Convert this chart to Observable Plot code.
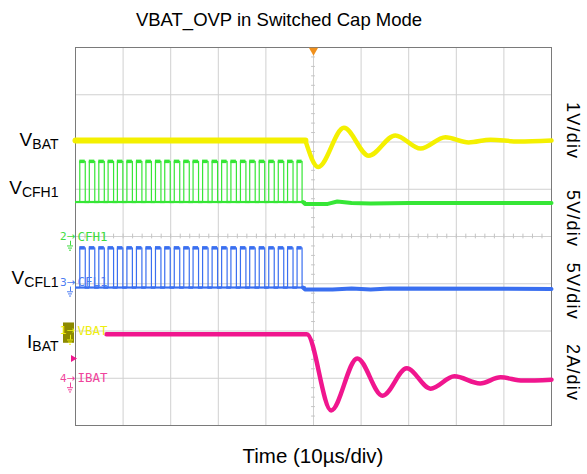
<!DOCTYPE html>
<html><head><meta charset="utf-8">
<script src="https://cdn.jsdelivr.net/npm/d3@7"></script>
<script src="https://cdn.jsdelivr.net/npm/@observablehq/plot@0.6"></script>
<style>
body{margin:0;background:#fff;font-family:"Liberation Sans",Arial,sans-serif;color:#000;}
#wrap{width:587px;height:474px;position:relative;overflow:hidden;}
#title{width:558px;height:40px;line-height:40px;text-align:center;font-size:18.5px;}
#xlab{width:626px;height:34px;line-height:32px;text-align:center;font-size:20.5px;}
svg{display:block;}
</style></head>
<body><div id="wrap">
<div id="title">VBAT_OVP in Switched Cap Mode</div>
<div id="chart"></div>
<div id="xlab">Time (10µs/div)</div>
</div>
<script>
// ---- data (time in µs, amplitude in screen divisions) ----
const vbatT = [-50, -1.7, 1.0, 6.4, 11.6, 17.2, 22.5, 27.7, 32.6, 37.2, 43, 50];
const vbatV = [2.03, 2.03, 1.47, 2.30, 1.71, 2.14, 1.86, 2.10, 1.99, 2.05, 2.01, 2.03];

const ibatT = [-43.5, -1.4, 3.7, 9.2, 14.5, 19.6, 24.6, 29.6, 35.0, 39.3, 44, 50];
const ibatV = [-2.07, -2.07, -3.68, -2.58, -3.37, -2.79, -3.22, -2.96, -3.11, -2.98, -3.05, -3.03];

const swRise = [-49.1, -47.1, -45.1, -43.15, -41.2, -39.2, -37.2, -35.2, -33.2, -31.25, -29.25, -27.25,
                -25.3, -23.3, -21.3, -19.3, -17.35, -15.35, -13.4, -11.4, -9.4, -7.4, -5.45, -3.45];
const swFall = [-47.95, -45.95, -43.95, -42.0, -40.05, -38.05, -36.05, -34.05, -32.05, -30.1, -28.1, -26.1,
                -24.15, -22.15, -20.15, -18.15, -16.2, -14.2, -12.25, -10.25, -8.25, -6.25, -4.3, -2.4];

const cfh1Hi = 1.59, cfh1Lo = 0.73;
const cfh1PostT = [-2.2, -1.8, 3, 5, 8, 12, 20, 50];
const cfh1PostV = [0.73, 0.69, 0.69, 0.74, 0.71, 0.70, 0.71, 0.71];

const cfl1Hi = -0.24, cfl1Lo = -1.08;
const cfl1PostT = [-2.2, -1.8, 4, 8, 12, 16, 50];
const cfl1PostV = [-1.08, -1.12, -1.12, -1.10, -1.12, -1.10, -1.11];

const railMain = ["V", "V", "V", "I"];
const railSub = ["BAT", "CFH1", "CFL1", "BAT"];
const railPos = [2.05, 1.03, -0.88, -2.24];

const chanNum = ["2", "3", "1", "4"];
const chanName = ["CFH1", "CFL1", "VBAT", "IBAT"];
const chanLevel = [0, -0.97, -1.99, -3.0];

const scaleText = ["1V/div", "5V/div", "5V/div", "2A/div"];
const scalePos = [2.24, 0.38, -1.16, -2.88];

// ---- colours ----
const cYellow = "#f4f000", cGreen = "#36e636", cBlue = "#3a6ff0", cMag = "#f0168e";
const chanColor = ["#3fdc3f", "#4c7cf2", "#eeee10", "#f0449c"];

// ---- build tables ----
const zip = (T, V) => T.map((t, i) => ({t, v: V[i]}));
const vbat = zip(vbatT, vbatV);
const ibat = zip(ibatT, ibatV);
function square(hi, lo) {
  const p = [{t: -50, v: lo}];
  swRise.forEach((r, i) => { p.push({t: r, v: lo}, {t: r, v: hi}, {t: swFall[i], v: hi}, {t: swFall[i], v: lo}); });
  p.push({t: -2.2, v: lo});
  return p;
}
const cfh1Sq = square(cfh1Hi, cfh1Lo), cfl1Sq = square(cfl1Hi, cfl1Lo);
const highs = (hi) => swRise.map((r, i) => ({a: r, b: swFall[i], v: hi}));
const cfh1Post = zip(cfh1PostT, cfh1PostV), cfl1Post = zip(cfl1PostT, cfl1PostV);
const chans = chanName.map((n, i) => ({n, num: chanNum[i], y: chanLevel[i], c: chanColor[i]}));

const majorX = d3.range(-40, 50, 10), majorY = d3.range(-3, 4, 1);
const minorX = d3.range(-50, 50.01, 2), minorY = d3.range(-4, 4.01, 0.2);

const chart = Plot.plot({
  width: 587, height: 400,
  marginTop: 7, marginBottom: 15, marginLeft: 75, marginRight: 36,
  x: {domain: [-50, 50], axis: null},
  y: {domain: [-4, 4], axis: null},
  style: {background: "white", fontFamily: "Liberation Sans, Arial, sans-serif", overflow: "visible"},
  marks: [
    Plot.ruleX(majorX, {stroke: "#d0d0d0", strokeWidth: 1}),
    Plot.ruleY(majorY, {stroke: "#d0d0d0", strokeWidth: 1}),
    Plot.ruleX(minorX, {x: d => d, y1: -0.05, y2: 0.05, stroke: "#c4c4c4"}),
    Plot.ruleY(minorY, {y: d => d, x1: -0.4, x2: 0.4, stroke: "#c4c4c4"}),
    Plot.frame({stroke: "#7a7a7a"}),
    // VBAT
    Plot.line(vbat.slice(0, 2), {x: "t", y: "v", stroke: cYellow, strokeWidth: 6}),
    Plot.line(vbat.slice(1), {x: "t", y: "v", stroke: cYellow, strokeWidth: 4.5, curve: "monotone-x"}),
    // CFH1
    Plot.line(cfh1Sq, {x: "t", y: "v", stroke: cGreen, strokeWidth: 1.2}),
    Plot.ruleY(highs(cfh1Hi), {x1: "a", x2: "b", y: "v", stroke: cGreen, strokeWidth: 3.5}),
    Plot.ruleY(highs(cfh1Lo), {x1: d => d.a - 0.9, x2: d => d.b + 0.9, y: "v", stroke: cGreen, strokeWidth: 2.2}),
    Plot.line(cfh1Post, {x: "t", y: "v", stroke: cGreen, strokeWidth: 4}),
    // CFL1
    Plot.line(cfl1Sq, {x: "t", y: "v", stroke: cBlue, strokeWidth: 1.2}),
    Plot.ruleY(highs(cfl1Hi), {x1: "a", x2: "b", y: "v", stroke: cBlue, strokeWidth: 3.5}),
    Plot.ruleY(highs(cfl1Lo), {x1: d => d.a - 0.9, x2: d => d.b + 0.9, y: "v", stroke: cBlue, strokeWidth: 2.2}),
    Plot.line(cfl1Post, {x: "t", y: "v", stroke: cBlue, strokeWidth: 4}),
    // IBAT
    Plot.line(ibat, {x: "t", y: "v", stroke: cMag, strokeWidth: 4.5, curve: "monotone-x"}),
    // channel markers
    Plot.rect([chans[2]], {x1: -50, x2: -50, y1: d => d.y + 0.16, y2: d => d.y - 0.27, insetLeft: -12, insetRight: 1, fill: "#8c8a00"}),
    Plot.text(chans, {x: -50, y: "y", text: "n", dx: 2, textAnchor: "start", fill: "c", fontSize: 12.5, fontFamily: "DejaVu Sans Mono, monospace"}),
    Plot.text(chans, {x: -50, y: "y", text: d => d.num + "→", dx: 0, textAnchor: "end", fill: "c", fontSize: 10.5, fontFamily: "DejaVu Sans"}),
    // ground symbols under each channel arrow
    Plot.ruleX(chans, {x: -50, y1: d => d.y - 0.1, y2: d => d.y - 0.2, dx: -5, stroke: "c"}),
    Plot.ruleY(chans, {y: d => d.y - 0.2, x1: -50, x2: -50, insetLeft: -8, insetRight: 2, stroke: "c"}),
    Plot.ruleY(chans, {y: d => d.y - 0.245, x1: -50, x2: -50, insetLeft: -7, insetRight: 3, stroke: "c"}),
    Plot.ruleY(chans, {y: d => d.y - 0.29, x1: -50, x2: -50, insetLeft: -6, insetRight: 4, stroke: "c"}),
    Plot.dot([{t: -50, v: -2.58}], {x: "t", y: "v", symbol: "triangle", rotate: 90, r: 2.6, dx: -2.5, fill: cMag, stroke: null}),
    Plot.dot([{t: 0, v: 4}], {x: "t", y: "v", symbol: "triangle", rotate: 180, r: 3.4, dy: 3, fill: "#f0901c", stroke: null}),
    // rail labels on the left (subscripts added below)
    Plot.text(railPos, {x: -50, y: d => d, text: (d, i) => "§" + i, textAnchor: "end", dx: -17, fontSize: 19, fill: "#000"}),
    // scale labels on the right
    Plot.text(scalePos, {x: 50, y: d => d, text: (d, i) => scaleText[i], dx: 21, rotate: 90, fontSize: 18, fill: "#000"})
  ]
});
document.getElementById("chart").appendChild(chart);
d3.select(chart).selectAll("text").each(function() {
  const s = d3.select(this);
  const txt = s.text();
  if (txt.startsWith("§")) {
    const i = +txt.slice(1);
    s.text(null);
    s.append("tspan").text(railMain[i]);
    s.append("tspan").attr("font-size", 14).attr("dy", 3).text(railSub[i]);
  } else if (txt.endsWith("/div")) {
    s.attr("letter-spacing", 1.2);
  }
});
</script>
</body></html>
